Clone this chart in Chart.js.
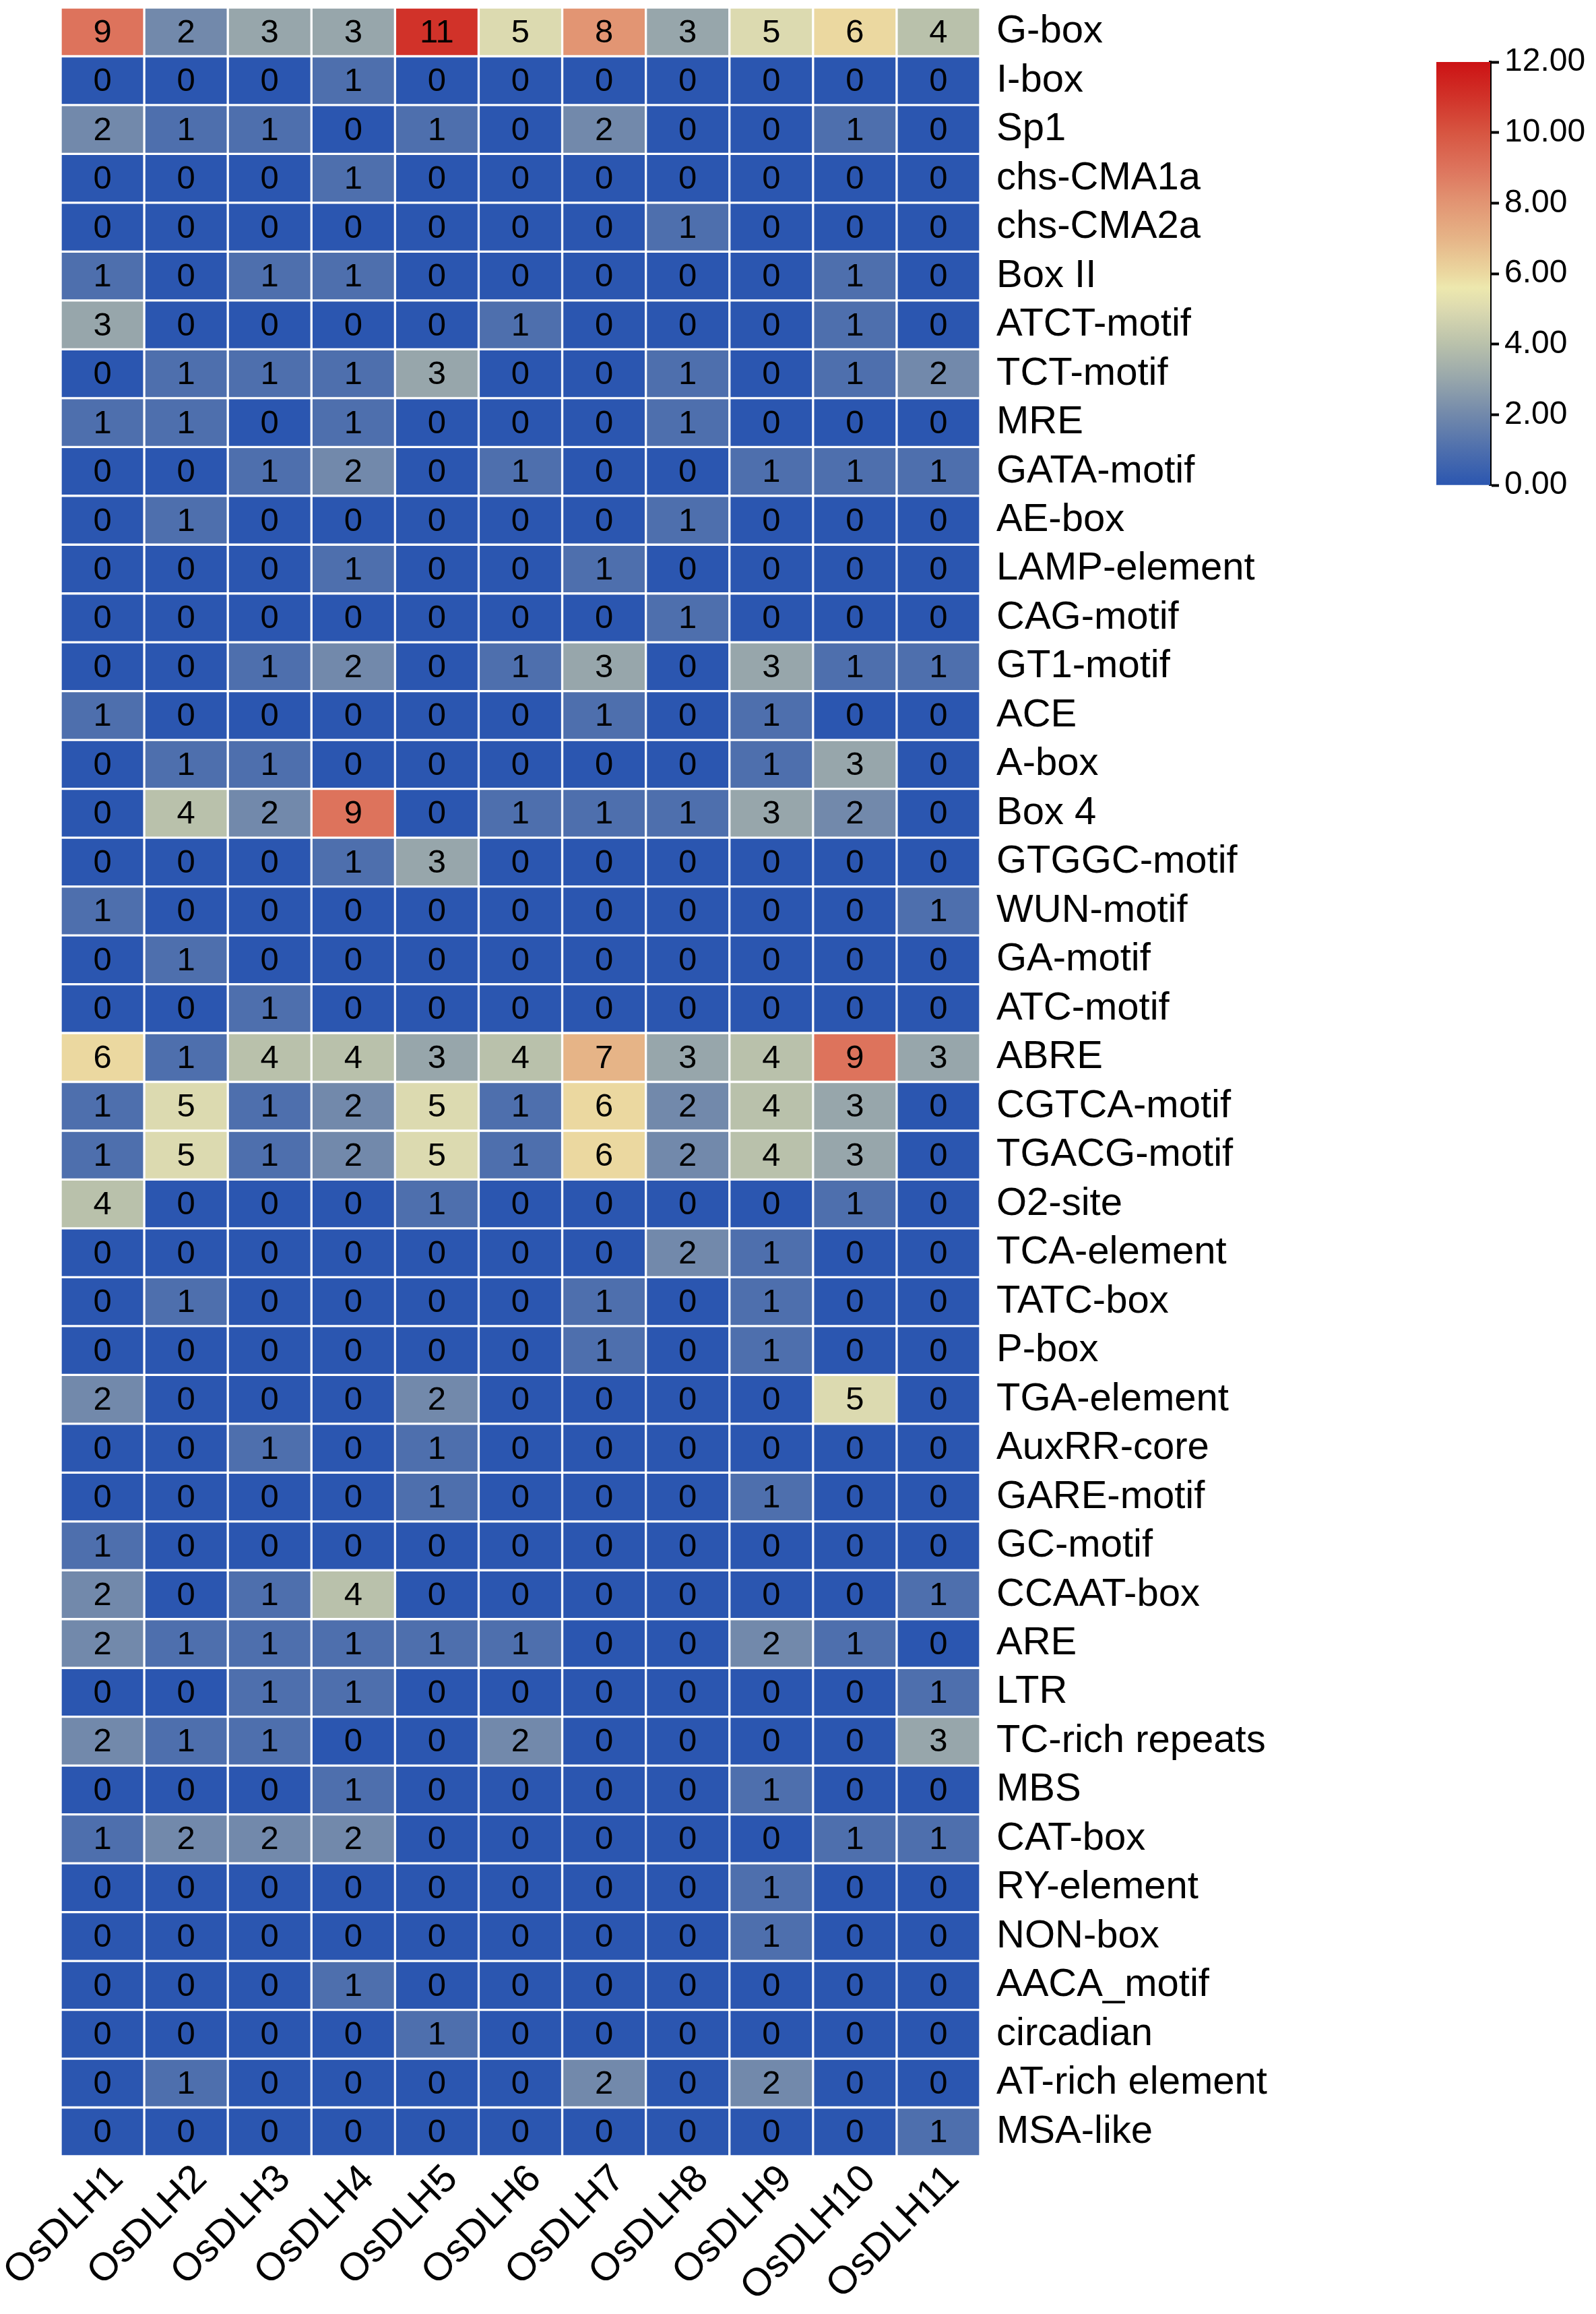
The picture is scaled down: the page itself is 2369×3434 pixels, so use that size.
<!DOCTYPE html>
<html>
<head>
<meta charset="utf-8">
<script src="https://cdn.jsdelivr.net/npm/chart.js@4/dist/chart.umd.min.js"></script>
<style>
  body { margin: 0; background: #fff; width: 2369px; height: 3434px; position: relative; overflow: hidden; }
  #heat { position: absolute; left: 0; top: 0; }
  #bar { position: absolute; left: 2050px; top: 0; }
</style>
</head>
<body>
<canvas id="heat" width="2000" height="3434"></canvas>
<canvas id="bar" width="319" height="800"></canvas>
<script>
var genes = ['OsDLH1', 'OsDLH2', 'OsDLH3', 'OsDLH4', 'OsDLH5', 'OsDLH6', 'OsDLH7', 'OsDLH8', 'OsDLH9', 'OsDLH10', 'OsDLH11'];

var motifs = ['G-box', 'I-box', 'Sp1', 'chs-CMA1a', 'chs-CMA2a', 'Box II', 'ATCT-motif', 'TCT-motif', 'MRE',
    'GATA-motif', 'AE-box', 'LAMP-element', 'CAG-motif', 'GT1-motif', 'ACE', 'A-box', 'Box 4', 'GTGGC-motif',
    'WUN-motif', 'GA-motif', 'ATC-motif', 'ABRE', 'CGTCA-motif', 'TGACG-motif', 'O2-site', 'TCA-element',
    'TATC-box', 'P-box', 'TGA-element', 'AuxRR-core', 'GARE-motif', 'GC-motif', 'CCAAT-box', 'ARE', 'LTR',
    'TC-rich repeats', 'MBS', 'CAT-box', 'RY-element', 'NON-box', 'AACA_motif', 'circadian', 'AT-rich element',
    'MSA-like'];

// one row per motif, one value per gene
var counts = [
    [9, 2, 3, 3, 11, 5, 8, 3, 5, 6, 4],
    [0, 0, 0, 1, 0, 0, 0, 0, 0, 0, 0],
    [2, 1, 1, 0, 1, 0, 2, 0, 0, 1, 0],
    [0, 0, 0, 1, 0, 0, 0, 0, 0, 0, 0],
    [0, 0, 0, 0, 0, 0, 0, 1, 0, 0, 0],
    [1, 0, 1, 1, 0, 0, 0, 0, 0, 1, 0],
    [3, 0, 0, 0, 0, 1, 0, 0, 0, 1, 0],
    [0, 1, 1, 1, 3, 0, 0, 1, 0, 1, 2],
    [1, 1, 0, 1, 0, 0, 0, 1, 0, 0, 0],
    [0, 0, 1, 2, 0, 1, 0, 0, 1, 1, 1],
    [0, 1, 0, 0, 0, 0, 0, 1, 0, 0, 0],
    [0, 0, 0, 1, 0, 0, 1, 0, 0, 0, 0],
    [0, 0, 0, 0, 0, 0, 0, 1, 0, 0, 0],
    [0, 0, 1, 2, 0, 1, 3, 0, 3, 1, 1],
    [1, 0, 0, 0, 0, 0, 1, 0, 1, 0, 0],
    [0, 1, 1, 0, 0, 0, 0, 0, 1, 3, 0],
    [0, 4, 2, 9, 0, 1, 1, 1, 3, 2, 0],
    [0, 0, 0, 1, 3, 0, 0, 0, 0, 0, 0],
    [1, 0, 0, 0, 0, 0, 0, 0, 0, 0, 1],
    [0, 1, 0, 0, 0, 0, 0, 0, 0, 0, 0],
    [0, 0, 1, 0, 0, 0, 0, 0, 0, 0, 0],
    [6, 1, 4, 4, 3, 4, 7, 3, 4, 9, 3],
    [1, 5, 1, 2, 5, 1, 6, 2, 4, 3, 0],
    [1, 5, 1, 2, 5, 1, 6, 2, 4, 3, 0],
    [4, 0, 0, 0, 1, 0, 0, 0, 0, 1, 0],
    [0, 0, 0, 0, 0, 0, 0, 2, 1, 0, 0],
    [0, 1, 0, 0, 0, 0, 1, 0, 1, 0, 0],
    [0, 0, 0, 0, 0, 0, 1, 0, 1, 0, 0],
    [2, 0, 0, 0, 2, 0, 0, 0, 0, 5, 0],
    [0, 0, 1, 0, 1, 0, 0, 0, 0, 0, 0],
    [0, 0, 0, 0, 1, 0, 0, 0, 1, 0, 0],
    [1, 0, 0, 0, 0, 0, 0, 0, 0, 0, 0],
    [2, 0, 1, 4, 0, 0, 0, 0, 0, 0, 1],
    [2, 1, 1, 1, 1, 1, 0, 0, 2, 1, 0],
    [0, 0, 1, 1, 0, 0, 0, 0, 0, 0, 1],
    [2, 1, 1, 0, 0, 2, 0, 0, 0, 0, 3],
    [0, 0, 0, 1, 0, 0, 0, 0, 1, 0, 0],
    [1, 2, 2, 2, 0, 0, 0, 0, 0, 1, 1],
    [0, 0, 0, 0, 0, 0, 0, 0, 1, 0, 0],
    [0, 0, 0, 0, 0, 0, 0, 0, 1, 0, 0],
    [0, 0, 0, 1, 0, 0, 0, 0, 0, 0, 0],
    [0, 0, 0, 0, 1, 0, 0, 0, 0, 0, 0],
    [0, 1, 0, 0, 0, 0, 2, 0, 2, 0, 0],
    [0, 0, 0, 0, 0, 0, 0, 0, 0, 0, 1]
];

var scaleTicks = [0, 2, 4, 6, 8, 10, 12];

// colour scale stops (value, rgb)
var stops = [
    [0, [43, 86, 176]],
    [1, [78, 111, 173]],
    [2, [114, 137, 171]],
    [3, [151, 166, 171]],
    [4, [185, 193, 171]],
    [5, [220, 218, 176]],
    [5.6, [237, 232, 174]],
    [6, [235, 216, 160]],
    [7, [230, 180, 135]],
    [8, [226, 149, 115]],
    [9, [221, 115, 92]],
    [10, [215, 85, 65]],
    [11, [209, 50, 41]],
    [12, [204, 18, 20]]
];

function colorFor(v) {
    if (v <= stops[0][0]) return 'rgb(' + stops[0][1].join(',') + ')';
    for (var i = 1; i < stops.length; i++) {
        if (v <= stops[i][0]) {
            var a = stops[i - 1], b = stops[i];
            var t = (v - a[0]) / (b[0] - a[0]);
            var c = a[1].map(function (x, k) { return Math.round(x + (b[1][k] - x) * t); });
            return 'rgb(' + c.join(',') + ')';
        }
    }
    return 'rgb(' + stops[stops.length - 1][1].join(',') + ')';
}

var FONT = "'Liberation Sans', Arial, sans-serif";

var datasets = genes.map(function (g, j) {
    return {
        label: g,
        data: motifs.map(function () { return [j, j + 1]; }),
        backgroundColor: motifs.map(function (m, i) { return colorFor(counts[i][j]); }),
        borderColor: '#ffffff',
        borderWidth: 2,
        borderSkipped: false,
        barPercentage: 1,
        categoryPercentage: 1,
        grouped: false
    };
});

var cellText = {
    id: 'cellText',
    afterDatasetsDraw: function (chart) {
        var ctx = chart.ctx;
        ctx.save();
        ctx.font = '49px ' + FONT;
        ctx.fillStyle = '#000';
        ctx.textAlign = 'center';
        ctx.textBaseline = 'middle';
        chart.data.datasets.forEach(function (ds, j) {
            chart.getDatasetMeta(j).data.forEach(function (el, i) {
                ctx.fillText(String(counts[i][j]), (el.x + el.base) / 2, el.y + 2);
            });
        });
        ctx.restore();
    }
};

new Chart(document.getElementById('heat'), {
    type: 'bar',
    data: { labels: motifs, datasets: datasets },
    options: {
        indexAxis: 'y',
        responsive: false,
        devicePixelRatio: 1,
        animation: false,
        layout: { padding: { left: 90, top: 11, right: 0, bottom: 0 } },
        plugins: { legend: { display: false }, tooltip: { enabled: false } },
        scales: {
            x: {
                type: 'linear',
                position: 'bottom',
                min: 0,
                max: 11,
                grid: { display: false, drawTicks: false },
                border: { display: false },
                afterBuildTicks: function (scale) {
                    scale.ticks = genes.map(function (g, i) { return { value: i + 0.5 }; });
                },
                afterFit: function (scale) {
                    scale.height = 234;
                    scale.paddingLeft = 0;
                    scale.paddingRight = 0;
                },
                ticks: {
                    autoSkip: false,
                    maxRotation: 45,
                    minRotation: 45,
                    padding: 0,
                    labelOffset: 22,
                    color: '#000',
                    font: { family: FONT, size: 58 },
                    callback: function (v) { return genes[Math.floor(v)]; }
                }
            },
            y: {
                type: 'category',
                position: 'right',
                grid: { display: false, drawTicks: false },
                border: { display: false },
                afterFit: function (scale) {
                    scale.width = 545;
                    scale.paddingTop = 0;
                    scale.paddingBottom = 0;
                },
                ticks: {
                    autoSkip: false,
                    padding: 24,
                    color: '#000',
                    font: { family: FONT, size: 58 }
                }
            }
        }
    },
    plugins: [cellText]
});

// colour bar
new Chart(document.getElementById('bar'), {
    type: 'bar',
    data: {
        labels: [''],
        datasets: [{
            data: [[0, 12]],
            barPercentage: 1,
            categoryPercentage: 1,
            borderWidth: 0,
            backgroundColor: function (c) {
                var area = c.chart.chartArea;
                if (!area) return colorFor(0);
                var g = c.chart.ctx.createLinearGradient(0, area.bottom, 0, area.top);
                stops.forEach(function (s) { g.addColorStop(s[0] / 12, colorFor(s[0])); });
                return g;
            }
        }]
    },
    options: {
        responsive: false,
        devicePixelRatio: 1,
        animation: false,
        layout: { padding: { left: 82, top: 92, right: 0, bottom: 80 } },
        plugins: { legend: { display: false }, tooltip: { enabled: false } },
        scales: {
            x: { display: false },
            y: {
                position: 'right',
                min: 0,
                max: 12,
                afterBuildTicks: function (scale) {
                    scale.ticks = scaleTicks.map(function (v) { return { value: v }; });
                },
                afterFit: function (scale) {
                    scale.width = 157;
                    scale.paddingTop = 0;
                    scale.paddingBottom = 0;
                },
                grid: { drawOnChartArea: false, drawTicks: true, tickLength: 13, tickColor: '#000', tickWidth: 4 },
                border: { display: true, color: '#000', width: 4 },
                ticks: {
                    padding: 8,
                    color: '#000',
                    font: { family: FONT, size: 48 },
                    callback: function (v) { return v.toFixed(2); }
                }
            }
        }
    }
});
</script>
</body>
</html>
